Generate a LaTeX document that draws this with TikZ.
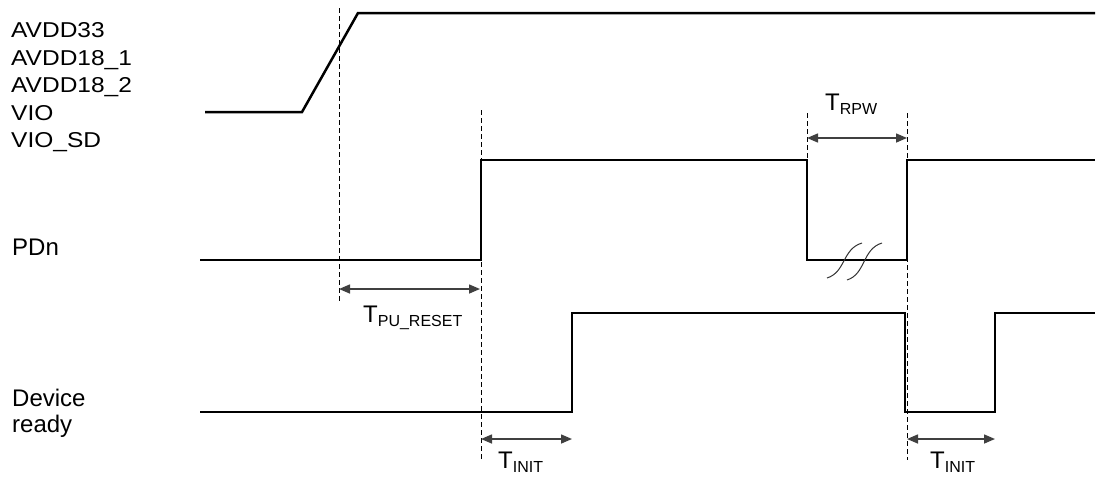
\documentclass[tikz,border=0pt]{standalone}
\usepackage{fontspec}
\setmainfont{Liberation Sans}
\usetikzlibrary{arrows.meta}
\begin{document}
\begin{tikzpicture}[x=1pt,y=-1pt,
  sig/.style={line width=2.5pt, line join=miter},
  guide/.style={line width=1pt, dash pattern=on 5pt off 3pt},
  dim/.style={line width=1.5pt, black!75, {Triangle[length=11pt,width=9pt]}-{Triangle[length=11pt,width=9pt]}},
  pwr/.style={inner sep=0pt, anchor=base west},
  lbl/.style={inner sep=0pt, anchor=base west, font=\fontsize{24}{26}\selectfont},
  brk/.style={line width=1pt, black!80}]
\useasboundingbox (0,0) rectangle (1099,477);
\newcommand{\pw}[1]{\scalebox{1.14}[1]{\fontsize{21.5}{24}\selectfont #1}}
\newcommand{\tsub}[1]{T\raisebox{-4pt}{\fontsize{16}{16}\selectfont #1}}
% labels
\node[pwr] (l1) at (11,37) {\pw{AVDD33}};
\node[pwr] (l2) at (11,65) {\pw{AVDD18\_1}};
\node[pwr] (l3) at (11,92) {\pw{AVDD18\_2}};
\node[pwr] (l4) at (11,120) {\pw{VIO}};
\node[pwr] (l5) at (11,147) {\pw{VIO\_SD}};
\node[lbl] (lpd) at (12,255) {PDn};
\node[lbl] (ldev) at (12,406) {Device};
\node[lbl] (lrdy) at (12,432) {ready};
% power
\coordinate (p0) at (205,112); \coordinate (p1) at (302,112);
\coordinate (p2) at (358,13); \coordinate (p3) at (1095,13);
\draw[sig] (p0) -- (p1) -- (p2) -- (p3);
% PDn
\coordinate (d0) at (200,260); \coordinate (d1) at (481,260);
\coordinate (d2) at (481,160); \coordinate (d3) at (807,160);
\coordinate (d4) at (807,260); \coordinate (d5) at (907,260);
\coordinate (d6) at (907,160); \coordinate (d7) at (1095,160);
\draw[sig] (d0) -- (d1) -- (d2) -- (d3) -- (d4) -- (d5) -- (d6) -- (d7);
% Device ready
\coordinate (r0) at (200,412); \coordinate (r1) at (572,412);
\coordinate (r2) at (572,313); \coordinate (r3) at (905,313);
\coordinate (r4) at (905,412); \coordinate (r5) at (995,412);
\coordinate (r6) at (995,313); \coordinate (r7) at (1095,313);
\draw[sig] (r0) -- (r1) -- (r2) -- (r3) -- (r4) -- (r5) -- (r6) -- (r7);
% guides
\coordinate (g1a) at (339,8);   \coordinate (g1b) at (339,302);
\coordinate (g2a) at (481,110); \coordinate (g2b) at (481,460);
\coordinate (g3a) at (807,113); \coordinate (g3b) at (807,160);
\coordinate (g4a) at (907,113); \coordinate (g4b) at (907,460);
\draw[guide] (g1a) -- (g1b);
\draw[guide] (g2a) -- (g2b);
\draw[guide] (g3a) -- (g3b);
\draw[guide] (g4a) -- (g4b);
% dimensions
\coordinate (a1) at (339,289); \coordinate (a2) at (480,289);
\coordinate (b1) at (807,138); \coordinate (b2) at (907,138);
\coordinate (c1) at (481,439); \coordinate (c2) at (572,439);
\coordinate (e1) at (907,439); \coordinate (e2) at (995,439);
\draw[dim] (a1) -- (a2);
\draw[dim] (b1) -- (b2);
\draw[dim] (c1) -- (c2);
\draw[dim] (e1) -- (e2);
\node[lbl] (tpu) at (363,322) {\tsub{PU\_RESET}};
\node[lbl] (trpw) at (825,110) {\tsub{RPW}};
\node[lbl] (ti1) at (498,468) {\tsub{INIT}};
\node[lbl] (ti2) at (930,468) {\tsub{INIT}};
% break mark
\draw[brk] (827,278) .. controls (846,272) and (842,249) .. (862,243);
\draw[brk] (847,280) .. controls (866,274) and (862,249) .. (882,243);
\end{tikzpicture}
\end{document}
